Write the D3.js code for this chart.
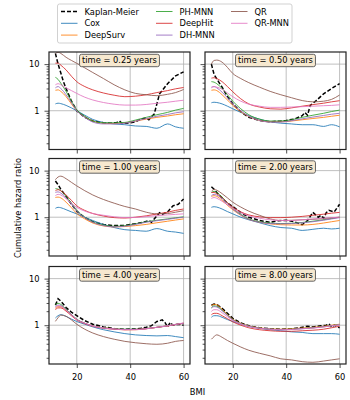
<!DOCTYPE html>
<html lang="en">
<head>
<meta charset="UTF-8">
<title>Cumulative hazard ratio vs BMI</title>
<script src="https://cdn.jsdelivr.net/npm/d3@7"></script>
<style>
  body { margin: 0; background: #fff; }
  svg text { font-family: "DejaVu Sans", sans-serif; font-size: 8.3px; fill: #000; }
</style>
</head>
<body>
<div id="chart"></div>
<script>
// panel titles
const times = ["0.25", "0.50", "1.00", "2.00", "4.00", "8.00"];

// BMI grid shared by the model curves
const bmi = [12, 13, 14, 16, 18, 20, 23, 26, 30, 34, 38, 42, 46, 50, 54, 57, 60];

// one row per panel (time = 0.25, 0.50, 1, 2, 4, 8 years)
const cox = [
  [1.4, 1.45, 1.42, 1.3, 1.15, 1.0, 0.8, 0.65, 0.56, 0.52, 0.5, 0.47, 0.46, 0.42, 0.52, 0.45, 0.42],
  [1.48, 1.52, 1.5, 1.4, 1.25, 1.1, 0.92, 0.78, 0.66, 0.58, 0.54, 0.52, 0.5, 0.5, 0.46, 0.5, 0.45],
  [1.55, 1.63, 1.6, 1.45, 1.3, 1.18, 1.0, 0.85, 0.7, 0.6, 0.54, 0.52, 0.5, 0.57, 0.5, 0.48, 0.45],
  [1.63, 1.68, 1.65, 1.5, 1.32, 1.18, 1.0, 0.88, 0.76, 0.66, 0.6, 0.58, 0.52, 0.55, 0.58, 0.56, 0.58],
  [1.43, 1.6, 1.68, 1.55, 1.35, 1.2, 1.05, 0.92, 0.8, 0.72, 0.66, 0.62, 0.6, 0.59, 0.6, 0.57, 0.54],
  [1.48, 1.6, 1.6, 1.48, 1.32, 1.2, 1.05, 0.95, 0.86, 0.8, 0.76, 0.72, 0.7, 0.66, 0.66, 0.66, 0.64]
];
const deepSurv = [
  [2.75, 2.8, 2.6, 2.0, 1.4, 1.0, 0.74, 0.6, 0.54, 0.53, 0.55, 0.6, 0.66, 0.72, 0.77, 0.82, 0.86],
  [2.75, 2.8, 2.7, 2.2, 1.7, 1.3, 0.95, 0.75, 0.62, 0.58, 0.58, 0.6, 0.64, 0.68, 0.72, 0.76, 0.8],
  [2.65, 2.7, 2.6, 2.1, 1.6, 1.2, 0.92, 0.75, 0.65, 0.62, 0.63, 0.66, 0.7, 0.76, 0.82, 0.87, 0.92],
  [2.78, 2.9, 2.8, 2.3, 1.8, 1.45, 1.1, 0.9, 0.78, 0.72, 0.69, 0.68, 0.68, 0.7, 0.75, 0.8, 0.85],
  [2.3, 2.5, 2.5, 2.1, 1.65, 1.32, 1.1, 0.96, 0.88, 0.84, 0.8, 0.8, 0.84, 0.9, 0.97, 1.04, 1.1],
  [2.64, 2.8, 2.75, 2.2, 1.7, 1.35, 1.1, 0.96, 0.88, 0.83, 0.82, 0.84, 0.87, 0.9, 0.95, 1.0, 1.05]
];
const phMnn = [
  [5.2, 4.7, 3.9, 2.6, 1.6, 1.05, 0.76, 0.6, 0.55, 0.55, 0.56, 0.63, 0.72, 0.82, 0.92, 1.03, 1.12],
  [4.2, 4.1, 3.8, 3.0, 2.2, 1.6, 1.1, 0.82, 0.66, 0.6, 0.6, 0.64, 0.72, 0.8, 0.88, 0.96, 1.03],
  [4.1, 4.0, 3.7, 2.8, 2.0, 1.4, 1.0, 0.8, 0.68, 0.64, 0.66, 0.72, 0.8, 0.86, 0.92, 0.97, 1.02],
  [3.4, 3.6, 3.4, 2.7, 2.05, 1.55, 1.15, 0.92, 0.8, 0.75, 0.73, 0.74, 0.77, 0.82, 0.88, 0.94, 1.0],
  [2.75, 2.95, 2.8, 2.2, 1.7, 1.35, 1.1, 0.96, 0.88, 0.84, 0.82, 0.82, 0.85, 0.9, 0.97, 1.04, 1.1],
  [2.4, 2.6, 2.55, 2.1, 1.65, 1.32, 1.08, 0.95, 0.87, 0.82, 0.81, 0.82, 0.85, 0.88, 0.93, 0.98, 1.03]
];
const deepHit = [
  [10.5, 10.5, 9.5, 7.5, 5.5, 4.2, 3.3, 2.8, 2.4, 2.15, 2.0, 2.05, 2.2, 2.45, 2.7, 2.95, 3.15],
  [5.0, 5.1, 4.9, 4.2, 3.3, 2.55, 1.8, 1.4, 1.2, 1.1, 1.08, 1.15, 1.25, 1.35, 1.45, 1.55, 1.64],
  [3.7, 3.9, 3.7, 3.0, 2.3, 1.76, 1.4, 1.2, 1.06, 0.98, 0.96, 1.0, 1.07, 1.17, 1.28, 1.4, 1.5],
  [3.4, 3.4, 3.2, 2.6, 2.05, 1.65, 1.3, 1.12, 1.02, 0.98, 0.98, 1.0, 1.04, 1.1, 1.16, 1.22, 1.27],
  [2.15, 2.35, 2.35, 2.0, 1.6, 1.3, 1.08, 0.95, 0.86, 0.82, 0.8, 0.81, 0.84, 0.9, 0.96, 1.03, 1.1],
  [1.68, 1.8, 1.8, 1.6, 1.38, 1.18, 1.0, 0.88, 0.8, 0.76, 0.74, 0.74, 0.76, 0.78, 0.82, 0.88, 0.95]
];
const dhMnn = [
  [3.1, 3.3, 3.0, 2.2, 1.5, 1.0, 0.72, 0.57, 0.52, 0.52, 0.54, 0.6, 0.68, 0.76, 0.83, 0.9, 0.95],
  [3.2, 3.3, 3.1, 2.5, 1.9, 1.4, 1.0, 0.76, 0.62, 0.57, 0.57, 0.61, 0.67, 0.73, 0.79, 0.84, 0.88],
  [3.4, 3.5, 3.3, 2.6, 1.9, 1.35, 0.98, 0.78, 0.66, 0.62, 0.64, 0.7, 0.78, 0.84, 0.9, 0.95, 1.0],
  [2.9, 3.1, 3.0, 2.5, 1.95, 1.5, 1.12, 0.9, 0.78, 0.73, 0.72, 0.73, 0.76, 0.8, 0.86, 0.92, 0.98],
  [2.5, 2.7, 2.65, 2.15, 1.68, 1.33, 1.1, 0.96, 0.87, 0.83, 0.81, 0.81, 0.84, 0.9, 0.97, 1.04, 1.1],
  [2.32, 2.5, 2.45, 2.05, 1.62, 1.3, 1.07, 0.94, 0.86, 0.82, 0.8, 0.81, 0.84, 0.87, 0.92, 0.97, 1.02]
];
const qr = [
  [17, 18, 17, 14, 12, 10.4, 8.3, 6.6, 4.9, 3.6, 2.8, 2.35, 2.2, 2.1, 2.25, 2.45, 2.85],
  [10, 12, 12.2, 11, 8.5, 6.3, 4.9, 4.0, 3.2, 2.6, 2.2, 1.9, 1.65, 1.55, 1.6, 1.75, 2.17],
  [6.4, 7.3, 7.6, 6.7, 5.6, 4.7, 3.7, 3.0, 2.4, 2.0, 1.7, 1.5, 1.28, 1.18, 1.2, 1.28, 1.38],
  [3.6, 3.95, 3.8, 3.2, 2.6, 2.1, 1.65, 1.35, 1.1, 0.92, 0.85, 0.86, 0.88, 0.9, 0.93, 0.97, 1.0],
  [1.21, 1.45, 1.65, 1.55, 1.3, 1.05, 0.82, 0.68, 0.57, 0.5, 0.45, 0.42, 0.4, 0.39, 0.41, 0.45, 0.47],
  [0.5, 0.57, 0.62, 0.55, 0.47, 0.41, 0.34, 0.29, 0.25, 0.22, 0.19, 0.18, 0.165, 0.16, 0.17, 0.18, 0.19]
];
const qrMnn = [
  [3.6, 3.8, 3.6, 3.1, 2.7, 2.35, 1.95, 1.7, 1.5, 1.38, 1.32, 1.32, 1.36, 1.44, 1.52, 1.6, 1.68],
  [3.1, 3.3, 3.2, 2.9, 2.4, 2.0, 1.6, 1.38, 1.25, 1.18, 1.18, 1.2, 1.22, 1.25, 1.28, 1.3, 1.34],
  [2.9, 3.1, 3.0, 2.5, 2.0, 1.63, 1.35, 1.2, 1.1, 1.02, 0.98, 0.99, 1.03, 1.08, 1.12, 1.15, 1.18],
  [2.52, 2.65, 2.55, 2.2, 1.85, 1.55, 1.25, 1.07, 0.95, 0.88, 0.85, 0.85, 0.88, 0.92, 0.95, 0.98, 1.0],
  [2.4, 2.6, 2.55, 2.1, 1.65, 1.32, 1.1, 0.96, 0.87, 0.83, 0.8, 0.8, 0.84, 0.9, 0.97, 1.04, 1.12],
  [1.98, 2.15, 2.15, 1.85, 1.52, 1.27, 1.06, 0.94, 0.86, 0.82, 0.8, 0.81, 0.84, 0.87, 0.92, 0.97, 1.02]
];

// Kaplan-Meier estimate, own BMI points per panel
const kmBmi = [
  [12, 13, 14, 15, 16, 18, 20, 23, 26, 30, 33, 35, 36, 37, 40, 42, 44, 46, 47, 48, 49, 51, 54, 57, 60],
  [12, 13, 14, 16, 18, 20, 23, 26, 30, 34, 38, 40, 43, 46, 47, 48, 49, 51, 54, 57, 60],
  [12, 13, 14, 16, 18, 20, 23, 26, 30, 34, 38, 40, 43, 45, 47, 48, 49, 51, 52, 54, 56, 58, 60],
  [12, 13, 14, 16, 18, 20, 23, 26, 30, 34, 37, 40, 43, 46, 48, 50, 52, 53, 54, 55, 56, 58, 60],
  [12, 13, 14, 16, 18, 20, 23, 26, 30, 34, 38, 42, 44, 46, 48, 50, 52, 53, 54, 55, 56, 58, 60],
  [12, 13, 14, 16, 18, 20, 23, 26, 30, 34, 38, 42, 45, 48, 50, 53, 55, 56, 57, 58, 60]
];
const kaplanMeier = [
  [17, 10, 6.5, 4.2, 3.0, 1.6, 1.0, 0.72, 0.6, 0.55, 0.54, 0.56, 0.6, 0.53, 0.55, 0.58, 0.66, 0.7, 0.64, 0.75, 0.85, 2.3, 3.8, 5.6, 6.8],
  [10, 6, 4.8, 3.2, 2.0, 1.4, 0.95, 0.72, 0.62, 0.58, 0.6, 0.62, 0.66, 0.78, 0.92, 0.8, 1.3, 1.6, 2.3, 3.0, 3.8],
  [6.0, 5.0, 4.0, 2.8, 1.9, 1.35, 0.98, 0.8, 0.7, 0.66, 0.66, 0.7, 0.74, 0.78, 0.85, 0.78, 0.92, 1.25, 1.15, 1.3, 1.75, 1.9, 2.45],
  [4.5, 4.0, 3.4, 2.6, 2.0, 1.7, 1.25, 1.0, 0.85, 0.78, 0.84, 0.86, 0.8, 0.69, 0.85, 1.27, 1.0, 1.1, 0.95, 1.25, 1.4, 1.3, 1.9],
  [2.7, 3.7, 3.3, 2.4, 1.9, 1.6, 1.25, 1.05, 0.92, 0.85, 0.82, 0.83, 0.86, 0.9, 0.98, 1.2, 1.3, 1.15, 0.92, 1.15, 1.0, 1.05, 1.0],
  [2.7, 2.85, 2.8, 2.3, 1.8, 1.4, 1.12, 0.97, 0.88, 0.84, 0.82, 0.84, 0.88, 0.95, 0.92, 0.97, 1.0, 1.08, 0.9, 1.0, 0.88]
];

const models = [
  { name: "Cox", color: "#1f77b4", values: cox },
  { name: "DeepSurv", color: "#ff7f0e", values: deepSurv },
  { name: "PH-MNN", color: "#2ca02c", values: phMnn },
  { name: "DeepHit", color: "#d62728", values: deepHit },
  { name: "DH-MNN", color: "#9467bd", values: dhMnn },
  { name: "QR", color: "#8c564b", values: qr },
  { name: "QR-MNN", color: "#e377c2", values: qrMnn }
];

const width = 350, height = 400;
const colX = [49, 205], panelW = 141;
const rowY = [52, 158.5, 266.5], panelH = 97.5;

const svg = d3.select("#chart").append("svg")
  .attr("width", width).attr("height", height);

const x = d3.scaleLinear().domain([9.6, 62.4]);
const y = d3.scaleLog().domain([0.147, 18.2]);

times.forEach(function (t, i) {
  const col = i % 2, row = Math.floor(i / 2);
  const px = colX[col], py = rowY[row];
  const xs = x.copy().range([px, px + panelW]);
  const ys = y.copy().range([py + panelH, py]);

  const clipId = "clip" + i;
  svg.append("clipPath").attr("id", clipId)
    .append("rect").attr("x", px).attr("y", py).attr("width", panelW).attr("height", panelH);

  // grid
  const grid = svg.append("g").attr("clip-path", "url(#" + clipId + ")");
  [20, 40, 60].forEach(function (v) {
    grid.append("line").attr("x1", xs(v)).attr("x2", xs(v))
      .attr("y1", py).attr("y2", py + panelH)
      .attr("stroke", "#b0b0b0").attr("stroke-width", 0.8);
  });
  [1, 10].forEach(function (v) {
    grid.append("line").attr("x1", px).attr("x2", px + panelW)
      .attr("y1", ys(v)).attr("y2", ys(v))
      .attr("stroke", "#b0b0b0").attr("stroke-width", 0.8);
  });

  const plot = svg.append("g").attr("clip-path", "url(#" + clipId + ")");

  // Kaplan-Meier
  const kmLine = d3.line().x(d => xs(d[0])).y(d => ys(d[1]));
  plot.append("path")
    .attr("d", kmLine(d3.zip(kmBmi[i], kaplanMeier[i])))
    .attr("fill", "none").attr("stroke", "#000")
    .attr("stroke-width", 1.5).attr("stroke-dasharray", "4,2");

  const line = d3.line().curve(d3.curveMonotoneX)
    .x(d => xs(d[0])).y(d => ys(d[1]));
  models.forEach(function (m) {
    plot.append("path")
      .attr("d", line(d3.zip(bmi, m.values[i])))
      .attr("fill", "none").attr("stroke", m.color)
      .attr("stroke-width", 1).attr("stroke-opacity", 0.85);
  });

  // axes
  const xAxis = d3.axisBottom(xs).tickValues([20, 40, 60]).tickSize(4).tickPadding(6)
    .tickFormat(row === 2 ? d3.format("d") : "");
  const gx = svg.append("g").attr("transform", "translate(0," + (py + panelH) + ")").call(xAxis);

  const minor = [0.2, 0.3, 0.4, 0.5, 0.6, 0.7, 0.8, 0.9, 2, 3, 4, 5, 6, 7, 8, 9];
  const gyMinor = svg.append("g").attr("transform", "translate(" + px + ",0)")
    .call(d3.axisLeft(ys).tickValues(minor).tickSize(2.4).tickFormat(""));
  const gy = svg.append("g").attr("transform", "translate(" + px + ",0)")
    .call(d3.axisLeft(ys).tickValues([1, 10]).tickSize(4.5).tickPadding(5)
      .tickFormat(col === 0 ? d3.format("d") : ""));

  [gx, gy, gyMinor].forEach(function (g) {
    g.select(".domain").remove();
    g.selectAll(".tick line").attr("stroke", "#222").attr("stroke-width", 0.8);
    g.selectAll(".tick text").style("font-family", "DejaVu Sans, sans-serif").style("font-size", "8.3px").attr("fill", "#000");
  });

  // frame
  svg.append("rect").attr("x", px).attr("y", py).attr("width", panelW).attr("height", panelH)
    .attr("fill", "none").attr("stroke", "#222").attr("stroke-width", 1.2);

  // title box
  const cx = px + panelW / 2;
  const titleG = svg.append("g");
  const box = titleG.append("rect");
  const label = titleG.append("text").attr("x", cx).attr("y", py + 11.4)
    .attr("text-anchor", "middle").text("time = " + t + " years");
  const bb = label.node().getBBox();
  box.attr("x", bb.x - 2.5).attr("y", py + 2.3)
    .attr("width", bb.width + 5).attr("height", 12.4)
    .attr("rx", 2).attr("fill", "#f6e8cf").attr("stroke", "#555").attr("stroke-width", 0.9);
});

// axis labels
svg.append("text").attr("x", 197.5).attr("y", 395)
  .attr("text-anchor", "middle").text("BMI");
svg.append("text")
  .attr("transform", "translate(21," + 208 + ") rotate(-90)")
  .attr("text-anchor", "middle").text("Cumulative hazard ratio");

// legend
const legendItems = [{ name: "Kaplan-Meier", color: "#000", km: true }].concat(models);
const legend = svg.append("g");
legend.append("rect").attr("x", 57.5).attr("y", 4).attr("width", 234.5).attr("height", 39)
  .attr("rx", 2).attr("fill", "#fff").attr("stroke", "#ccc").attr("stroke-width", 0.9);
const colStart = [61, 156, 231];
legendItems.forEach(function (d, k) {
  const c = Math.floor(k / 3), r = k % 3;
  const lx = colStart[c], ly = 11.5 + r * 11.8;
  legend.append("line").attr("x1", lx).attr("x2", lx + 16.5)
    .attr("y1", ly).attr("y2", ly)
    .attr("stroke", d.color)
    .attr("stroke-width", d.km ? 1.5 : 1)
    .attr("stroke-opacity", d.km ? 1 : 0.85)
    .attr("stroke-dasharray", d.km ? "4,2" : null);
  legend.append("text").attr("x", lx + 23.5).attr("y", ly + 3).text(d.name);
});
</script>
</body>
</html>
